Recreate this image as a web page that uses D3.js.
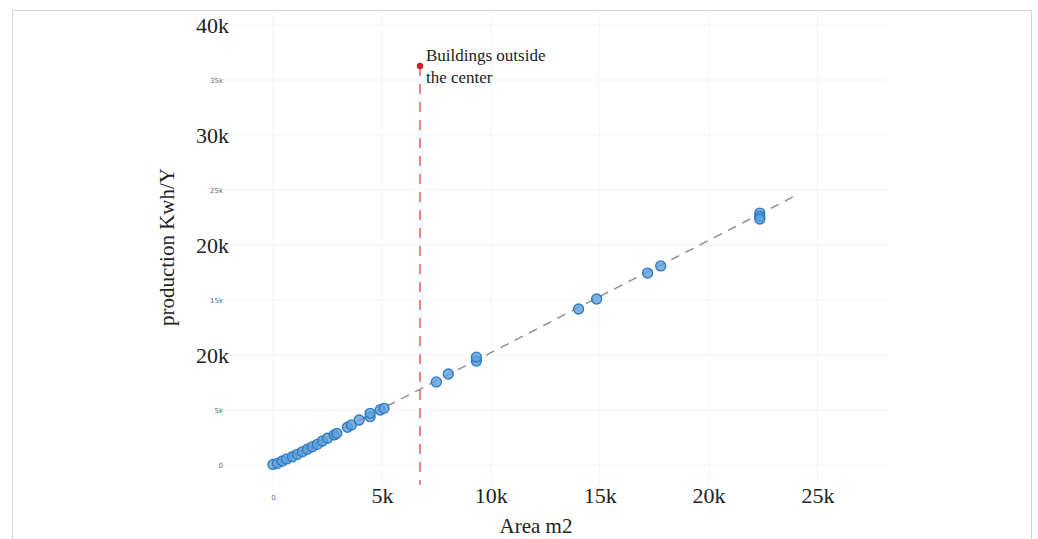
<!DOCTYPE html>
<html>
<head>
<meta charset="utf-8">
<script src="https://cdn.jsdelivr.net/npm/d3@7"></script>
<style>
  body { margin: 0; background: #fff; }
  svg { display: block; }
</style>
</head>
<body>
<div id="chart"></div>
<script>
// buildings: area (m2) and yearly production (kWh)
var areas = [0, 200, 430, 630, 890, 1120, 1350, 1580, 1810, 2040, 2270, 2500, 2810, 2930,
  3420, 3600, 3960, 4460, 4460, 4920, 5100,
  7500, 8050, 9340, 9340,
  14030, 14860, 17200, 17800, 22350, 22350, 22350];
var production = [50, 150, 360, 550, 750, 970, 1210, 1430, 1660, 1880, 2180, 2430, 2730, 2880,
  3430, 3640, 4090, 4390, 4700, 5000, 5150,
  7550, 8270, 9450, 9800,
  14180, 15090, 17450, 18100, 22900, 22600, 22360];

// fitted trend line end points
var trendX = [0, 24100];
var trendY = [0, 24600];

// "Buildings outside the center" marker
var markerX = 6750;
var markerY = 36270;
var markerText = ["Buildings outside", "the center"];

// tick labels as printed in the picture
var yBigTicks = [40000, 30000, 20000, 10000];
var yBigLabels = ["40k", "30k", "20k", "20k"];
var ySmallTicks = [35000, 25000, 15000, 5000, 0];
var ySmallLabels = ["35k", "25k", "15k", "5k", "0"];
var xBigTicks = [5000, 10000, 15000, 20000, 25000];
var xBigLabels = ["5k", "10k", "15k", "20k", "25k"];
var xSmallTicks = [0];
var xSmallLabels = ["0"];
var gridX = [0, 5000, 10000, 15000, 20000, 25000];
var gridY = [0, 5000, 10000, 15000, 20000, 25000, 30000, 35000, 40000];

var W = 1038, H = 539;
var serif = "'Liberation Serif', 'DejaVu Serif', serif";

var svg = d3.select("#chart").append("svg")
    .attr("width", W)
    .attr("height", H);

// outer frame
svg.append("rect")
    .attr("x", 12.5).attr("y", 10.5)
    .attr("width", 1019).attr("height", 560)
    .attr("fill", "none")
    .attr("stroke", "#d4d4d4");

var x = d3.scaleLinear()
    .domain([-2340, 28190])
    .range([222, 887]);
var y = d3.scaleLinear()
    .domain([-1820, 41180])
    .range([485, 12]);

// grid
svg.append("g")
  .selectAll("line")
  .data(gridY)
  .enter().append("line")
    .attr("x1", x.range()[0]).attr("x2", x.range()[1])
    .attr("y1", function(d) { return y(d); })
    .attr("y2", function(d) { return y(d); })
    .attr("stroke", "#f3f3f3");
svg.append("g")
  .selectAll("line")
  .data(gridX)
  .enter().append("line")
    .attr("y1", y.range()[0]).attr("y2", y.range()[1])
    .attr("x1", function(d) { return x(d); })
    .attr("x2", function(d) { return x(d); })
    .attr("stroke", "#f3f3f3");

// axes (text only)
function bareAxis(g) {
  g.select(".domain").remove();
  g.selectAll(".tick line").remove();
}

svg.append("g")
    .attr("transform", "translate(223,0)")
    .call(d3.axisLeft(y).tickValues(ySmallTicks).tickSize(0)
      .tickFormat(function(d, i) { return ySmallLabels[i]; }))
    .call(bareAxis)
    .selectAll("text")
    .attr("x", 0)
    .attr("font-family", "'DejaVu Sans', sans-serif")
    .attr("font-size", 7)
    .attr("fill", "#666");

svg.append("g")
    .attr("transform", "translate(229,0)")
    .call(d3.axisLeft(y).tickValues(yBigTicks).tickSize(0)
      .tickFormat(function(d, i) { return yBigLabels[i]; }))
    .call(bareAxis)
    .selectAll("text")
    .attr("x", 0)
    .attr("font-family", serif)
    .attr("font-size", 22)
    .attr("fill", "#222");

svg.append("g")
    .attr("transform", "translate(0,495)")
    .call(d3.axisBottom(x).tickValues(xSmallTicks).tickSize(0)
      .tickFormat(function(d, i) { return xSmallLabels[i]; }))
    .call(bareAxis)
    .selectAll("text")
    .attr("y", 0)
    .attr("font-family", "'DejaVu Sans', sans-serif")
    .attr("font-size", 7)
    .attr("fill", "#666");

svg.append("g")
    .attr("transform", "translate(0,487)")
    .call(d3.axisBottom(x).tickValues(xBigTicks).tickSize(0)
      .tickFormat(function(d, i) { return xBigLabels[i]; }))
    .call(bareAxis)
    .selectAll("text")
    .attr("y", 0)
    .attr("font-family", serif)
    .attr("font-size", 22)
    .attr("fill", "#222");

// axis titles
svg.append("text")
    .attr("transform", "translate(174,247) rotate(-90)")
    .attr("text-anchor", "middle")
    .attr("font-family", serif)
    .attr("font-size", 21)
    .attr("fill", "#222")
    .text("production Kwh/Y");

svg.append("text")
    .attr("x", 536).attr("y", 533)
    .attr("text-anchor", "middle")
    .attr("font-family", serif)
    .attr("font-size", 21)
    .attr("fill", "#222")
    .text("Area m2");

// annotation line
svg.append("line")
    .attr("x1", x(markerX)).attr("x2", x(markerX))
    .attr("y1", y(markerY)).attr("y2", y.range()[0])
    .attr("stroke", "#e8868c")
    .attr("stroke-width", 2)
    .attr("stroke-dasharray", "10,8");

// trend line
svg.append("path")
    .datum(d3.range(trendX.length))
    .attr("fill", "none")
    .attr("stroke", "#8a8a8a")
    .attr("stroke-width", 1.4)
    .attr("stroke-dasharray", "9,7")
    .attr("d", d3.line()
      .x(function(i) { return x(trendX[i]); })
      .y(function(i) { return y(trendY[i]); }));

// points
svg.append("g")
  .selectAll("circle")
  .data(d3.range(areas.length))
  .enter().append("circle")
    .attr("cx", function(i) { return x(areas[i]); })
    .attr("cy", function(i) { return y(production[i]); })
    .attr("r", 5)
    .attr("fill", "#5f9fd8")
    .attr("fill-opacity", 0.8)
    .attr("stroke", "#2a78c2")
    .attr("stroke-width", 1.3);

// annotation marker and text
svg.append("circle")
    .attr("cx", x(markerX)).attr("cy", y(markerY))
    .attr("r", 3.2)
    .attr("fill", "#d0202b");

svg.append("text")
    .attr("x", x(markerX) + 6)
    .attr("y", 61)
    .attr("font-family", serif)
    .attr("font-size", 17)
    .attr("fill", "#222")
  .selectAll("tspan")
  .data(markerText)
  .enter().append("tspan")
    .attr("x", x(markerX) + 6)
    .attr("dy", function(d, i) { return i ? 22 : 0; })
    .text(function(d) { return d; });
</script>
</body>
</html>
